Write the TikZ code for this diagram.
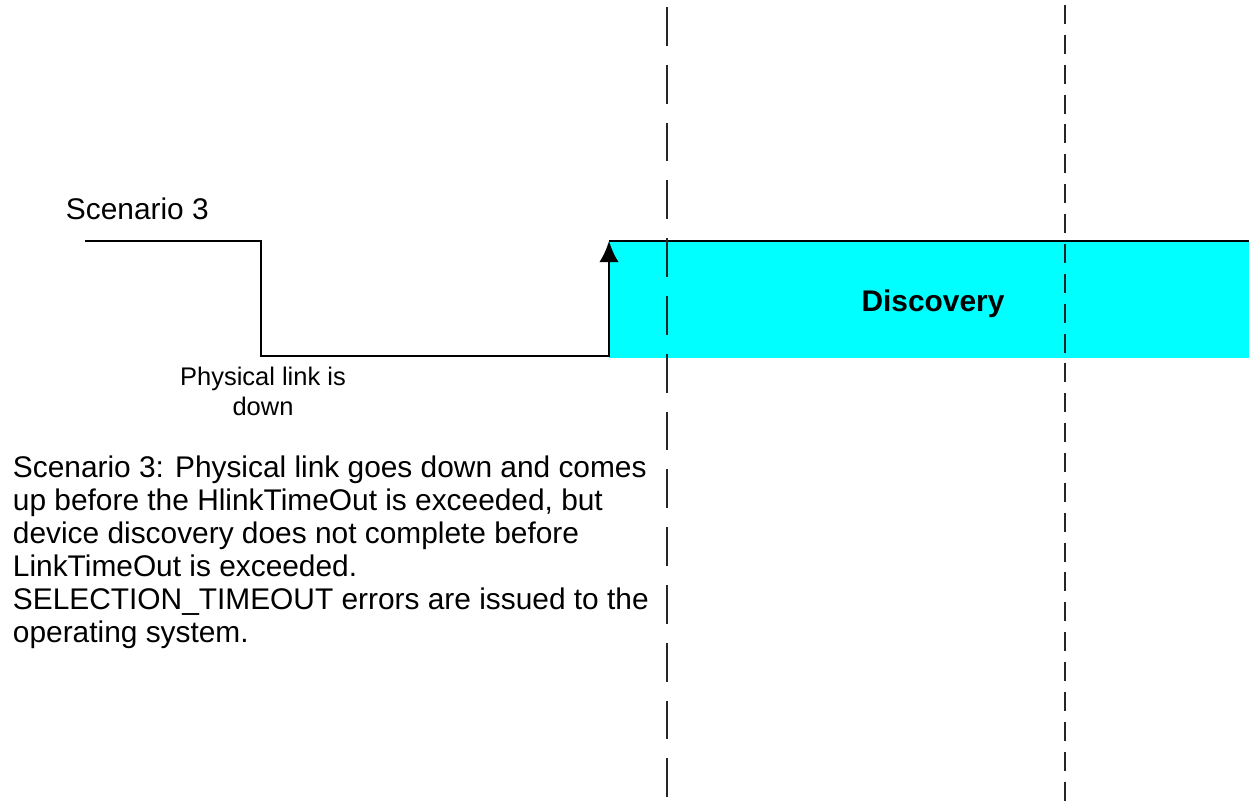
\documentclass[tikz,border=0pt]{standalone}
\usepackage{fontspec}
\setmainfont{Liberation Sans}
\usetikzlibrary{arrows.meta}
\definecolor{discocyan}{RGB}{0,255,255}

\begin{document}
\begin{tikzpicture}[x=0.02cm,y=-0.02cm,>={Latex[length=12pt,width=11pt]},line width=1.1pt,
  txt/.style={inner sep=0pt,font=\fontsize{17}{18.8}\selectfont},
  timeline/.style={line width=1.1pt,black!85}]
\useasboundingbox (0,0) rectangle (1249,807);
% discovery phase
\coordinate (up) at (609,241);
\coordinate (upend) at (1249,241);
\fill[discocyan] (up) rectangle (1249,358);
\draw (up) -- (upend);
\node[txt,font=\fontsize{17}{20}\selectfont\bfseries] (disc) at (933,304) {Discovery};
% timeouts
\draw[timeline,dash pattern=on 22.1pt off 10.8pt] (667,7) -- (667,807);
\draw[timeline,dash pattern=on 10.8pt off 6.2pt] (1065,5) -- (1065,807);
% link signal
\coordinate (s0) at (85,241);
\coordinate (s1) at (261,241);
\coordinate (s2) at (261,356);
\coordinate (s3) at (609,356);
\draw[->] (s0) -- (s1) -- (s2) -- (s3) -- (up);
\node[txt,anchor=base west] (title) at (65,220) {Scenario 3};
\node[txt,font=\fontsize{14.5}{17}\selectfont,align=center,anchor=north] (down) at (263,366) {Physical link is\\down};
\node[txt,align=left,anchor=north west] (desc) at (12,455) {Scenario 3: Physical link goes down and comes\\up before the HlinkTimeOut is exceeded, but\\device discovery does not complete before\\LinkTimeOut is exceeded.\\SELECTION\_TIMEOUT errors are issued to the\\operating system.};
\end{tikzpicture}
\end{document}
